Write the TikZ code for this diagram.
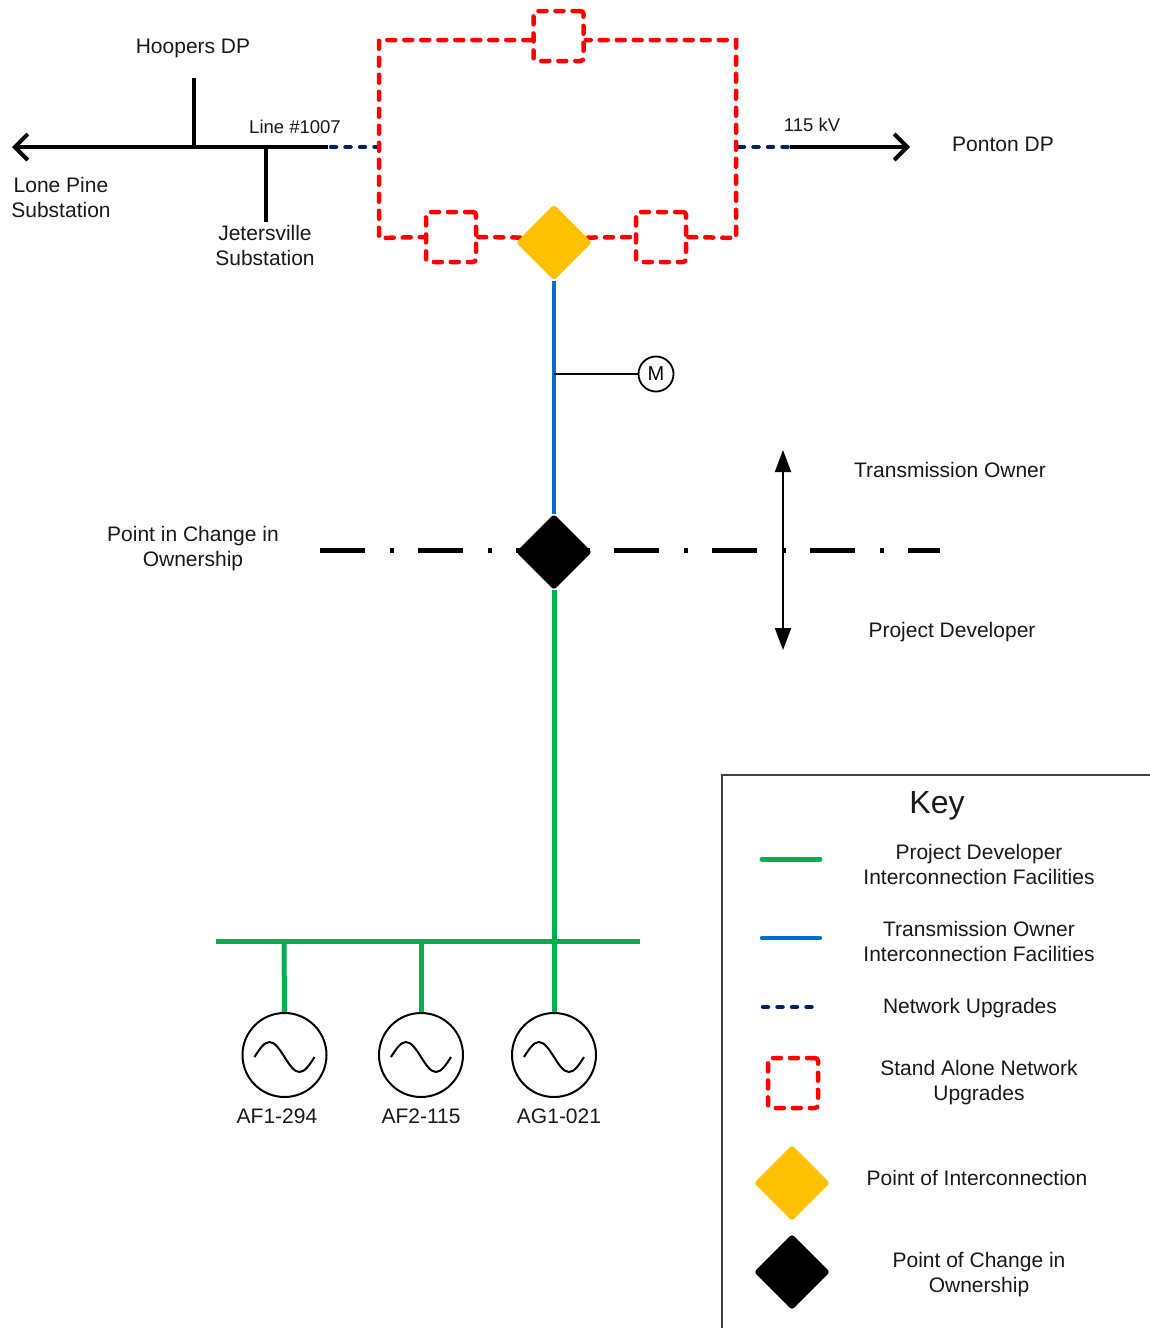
\documentclass[tikz,border=0pt]{standalone}
\usepackage{fontspec}
\setmainfont{Liberation Sans}
\usetikzlibrary{arrows.meta,shapes.geometric,backgrounds}
\definecolor{pdgreen}{RGB}{0,176,80}
\definecolor{toblue}{RGB}{0,112,192}
\definecolor{nunavy}{RGB}{0,32,96}
\definecolor{sared}{RGB}{255,0,0}
\definecolor{poiyellow}{RGB}{255,192,0}
\definecolor{txt}{RGB}{25,25,25}
\newcommand\genwave[1]{\draw[line width=2pt] ([xshift=-30pt,yshift=-2pt]#1.center) sin ++(15,-15) cos ++(15,15) sin ++(15,15) cos ++(15,-15);}
\begin{document}
\begin{tikzpicture}[x=1pt,y=-1pt,
  lbl/.style={font=\fontsize{21}{25}\selectfont, align=center, inner sep=0pt, text=txt},
  smalllbl/.style={lbl, font=\fontsize{18.5}{22}\selectfont},
  busline/.style={line width=4pt, black},
  pdline/.style={line width=5pt, pdgreen},
  toline/.style={line width=4.5pt, toblue},
  nuline/.style={line width=4.5pt, draw=nunavy, line cap=round, dash pattern=on 5pt off 9.5pt},
  saline/.style={line width=4.5pt, draw=sared, line cap=round, dash pattern=on 8pt off 9pt},
  sabox/.style={rectangle, draw, saline, rounded corners=3pt, minimum size=50pt, inner sep=0pt},
  poidia/.style={diamond, aspect=1, fill=poiyellow, minimum size=76pt, inner sep=0pt, rounded corners=3pt},
  coodia/.style={poidia, fill=black},
  gen/.style={circle, draw, line width=2pt, minimum size=84pt, inner sep=0pt},
  keyline/.style={line width=1.5pt, black!75},
  barb/.style={-{Straight Barb[length=13pt,width=26pt]}},
  tri/.style={{Triangle[length=22pt,width=16pt]}-{Triangle[length=22pt,width=16pt]}}
]
\useasboundingbox (0,0) rectangle (1150,1328);

% ---------- coordinates ----------
\coordinate (lpt) at (12,147);
\coordinate (lend) at (328,147);
\coordinate (hoopj) at (194,147);
\coordinate (hoopt) at (194,78);
\coordinate (jetj) at (266,147);
\coordinate (jetb) at (266,222);
\coordinate (nul1) at (331,147);
\coordinate (nul2) at (377,147);
\coordinate (nur1) at (739,147);
\coordinate (nur2) at (790,147);
\coordinate (rpt) at (910,147);
\coordinate (rtl) at (379,40);
\coordinate (rtr) at (736,40);
\coordinate (rbl) at (379,238);
\coordinate (rbr) at (736,238);
\coordinate (mtap) at (554,374);
\coordinate (dl) at (320,550);
\coordinate (dr) at (940,550);
\coordinate (au) at (783,450);
\coordinate (ad) at (783,650);
\coordinate (busl) at (216,941);
\coordinate (busr) at (640,941);
\coordinate (b1) at (284,941);
\coordinate (b2) at (421,941);

% ---------- nodes ----------
\node[sabox] (sb1) at (558.5,36) {};
\node[sabox] (sb2) at (451,237) {};
\node[sabox] (sb3) at (661,237) {};
\node[poidia] (poi) at (554,242.5) {};
\node[coodia] (coo) at (554,552) {};
\node[circle, draw, line width=1.8pt, minimum size=35pt, inner sep=0pt, font=\fontsize{20}{22}\selectfont] (meter) at (656,374) {M};
\node[gen] (g1) at (284.5,1055) {};
\node[gen] (g2) at (421,1055) {};
\node[gen] (g3) at (554,1055) {};
\genwave{g1}
\genwave{g2}
\genwave{g3}

% ---------- labels ----------
\node[lbl] (thoop) at (193,48) {Hoopers DP};
\node[smalllbl] (tline) at (295,127) {Line \#1007};
\node[lbl] (tlone) at (61,197) {Lone Pine\\Substation};
\node[lbl] (tjet) at (265,245) {Jetersville\\Substation};
\node[smalllbl] (tkv) at (812,125) {115 kV};
\node[lbl] (tpont) at (1003,144) {Ponton DP};
\node[lbl] (tto) at (950,470) {Transmission Owner};
\node[lbl] (tpd) at (952,632) {Project Developer};
\node[lbl] (tpcc) at (193,549) {Point in Change in\\Ownership};
\node[lbl] (tg1) at (277,1116) {AF1-294};
\node[lbl] (tg2) at (421,1116) {AF2-115};
\node[lbl] (tg3) at (559,1116) {AG1-021};

% ---------- key ----------
\coordinate (ktr) at (1150,775);
\coordinate (ktl) at (722,775);
\coordinate (kbl) at (722,1328);
\draw[keyline] (ktr) -- (ktl) -- (kbl);
\node[lbl, font=\fontsize{32}{36}\selectfont] (keyt) at (937,806) {Key};
\coordinate (kg1) at (762,859); \coordinate (kg2) at (820,859);
\coordinate (kb1) at (762,938); \coordinate (kb2) at (820,938);
\coordinate (kn1) at (763,1007); \coordinate (kn2) at (820,1007);
\draw[pdline, line cap=round] (kg1) -- (kg2);
\draw[toline, line cap=round] (kb1) -- (kb2);
\draw[nuline] (kn1) -- (kn2);
\node[sabox] (ksa) at (793,1083) {};
\node[poidia] (kpoi) at (792,1183) {};
\node[coodia] (kcoo) at (792,1272) {};
\node[lbl] (kt1) at (979,864) {Project Developer\\Interconnection Facilities};
\node[lbl] (kt2) at (979,941) {Transmission Owner\\Interconnection Facilities};
\node[lbl] (kt3) at (970,1008) {Network Upgrades};
\node[lbl] (kt4) at (979,1083) {Stand Alone Network\\Upgrades};
\node[lbl] (kt5) at (977,1178) {Point of Interconnection};
\node[lbl] (kt6) at (979,1275) {Point of Change in\\Ownership};

% ---------- connectors ----------
\begin{scope}[on background layer]
  \draw[busline, barb] (lend) -- (lpt);
  \draw[busline] (hoopj) -- (hoopt);
  \draw[busline] (jetj) -- (jetb);
  \draw[nuline] (nul1) -- (nul2);
  \draw[nuline] (nur1) -- (nur2);
  \draw[busline, barb] (nur2) -- (rpt);
  % stand alone network upgrades loop
  \draw[saline] (rtl -| sb1.west) -- (rtl) -- (rbl) -- (sb2.west);
  \draw[saline] (sb2.east) -- (rbl -| poi.center);
  \draw[saline] (rbr -| poi.center) -- (sb3.west);
  \draw[saline] (sb3.east) -- (rbr) -- (rtr) -- (rtr -| sb1.east);
  % interconnection facilities
  \draw[toline] (poi.south) -- (coo.north);
  \draw[line width=1.8pt] (mtap) -- (meter.west);
  \draw[line width=5pt, black, dash pattern=on 45pt off 25pt on 4pt off 24pt] (dl) -- (dr);
  \draw[line width=2pt, tri] (au) -- (ad);
  \draw[pdline] (coo.south) -- (g3.north);
  \draw[pdline] (busl) -- (busr);
  \draw[pdline] (b1) -- (g1.north);
  \draw[pdline] (b2) -- (g2.north);
\end{scope}
\end{tikzpicture}
\end{document}
